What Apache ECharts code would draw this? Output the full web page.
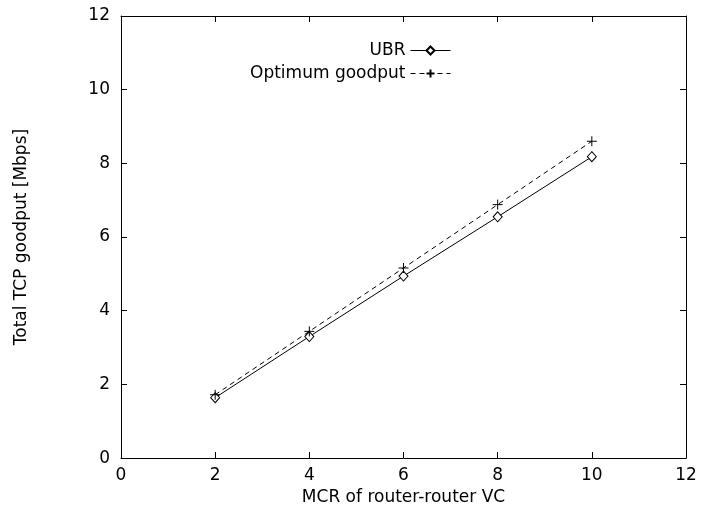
<!DOCTYPE html>
<html>
<head>
<meta charset="utf-8">
<script src="https://cdn.jsdelivr.net/npm/echarts@6/dist/echarts.min.js"></script>
<style>
  html, body { margin: 0; padding: 0; background: #fff; }
  #chart { width: 701px; height: 511px; }
</style>
</head>
<body>
<div id="chart"></div>
<script>
// MCR values of the router-router VC (Mbps)
const mcr = [2, 4, 6, 8, 10];
// Measured total TCP goodput with UBR
const ubrGoodput = [1.64, 3.30, 4.94, 6.55, 8.18];
// Optimum achievable goodput
const optimumGoodput = [1.72, 3.44, 5.16, 6.88, 8.60];

const FONT = '"DejaVu Sans", "Liberation Sans", Arial, sans-serif';
const FS = 17;
const plusPath = 'path://M0,5 L10,5 M5,0 L5,10';

function pairs(xs, ys) { return xs.map((x, i) => [x, ys[i]]); }

const chart = echarts.init(document.getElementById('chart'), null, { renderer: 'canvas' });

const axisCommon = {
  type: 'value', min: 0, max: 12, interval: 2,
  axisLine: { show: true, onZero: false, lineStyle: { color: '#000', width: 1 } },
  axisTick: { show: true, inside: true, length: 6, lineStyle: { color: '#000' } },
  splitLine: { show: false },
};

chart.setOption({
  animation: false,
  backgroundColor: '#fff',
  grid: { left: 121, right: 15, top: 16, bottom: 48 },
  xAxis: [
    Object.assign({}, axisCommon, {
      position: 'bottom',
      name: 'MCR of router-router VC',
      nameLocation: 'middle', nameGap: 26,
      nameTextStyle: { fontFamily: FONT, fontSize: FS, color: '#000' },
      axisLabel: { fontFamily: FONT, fontSize: FS, color: '#000', margin: 9 },
    }),
    Object.assign({}, axisCommon, { position: 'top', axisLabel: { show: false } }),
  ],
  yAxis: [
    Object.assign({}, axisCommon, {
      position: 'left',
      name: 'Total TCP goodput [Mbps]',
      nameLocation: 'middle', nameGap: 91,
      nameTextStyle: { fontFamily: FONT, fontSize: FS, color: '#000' },
      axisLabel: { fontFamily: FONT, fontSize: FS, color: '#000', margin: 11 },
    }),
    Object.assign({}, axisCommon, { position: 'right', axisLabel: { show: false } }),
  ],
  legend: {
    orient: 'vertical',
    align: 'right',
    right: 245,
    top: 37,
    itemWidth: 40,
    itemHeight: 10,
    itemGap: 6,
    lineStyle: { width: 1 },
    textStyle: { fontFamily: FONT, fontSize: FS, color: '#000' },
    data: ['UBR', 'Optimum goodput'],
  },
  series: [
    {
      name: 'UBR',
      type: 'line',
      data: pairs(mcr, ubrGoodput),
      symbol: 'diamond',
      symbolSize: [9, 10],
      lineStyle: { color: '#000', width: 1, type: 'solid' },
      itemStyle: { color: '#fff', borderColor: '#000', borderWidth: 1 },
    },
    {
      name: 'Optimum goodput',
      type: 'line',
      data: pairs(mcr, optimumGoodput),
      symbol: plusPath,
      symbolSize: 10,
      lineStyle: { color: '#000', width: 1, type: [5, 4] },
      itemStyle: { color: '#000', borderColor: '#000', borderWidth: 1 },
    },
  ],
});
</script>
</body>
</html>
